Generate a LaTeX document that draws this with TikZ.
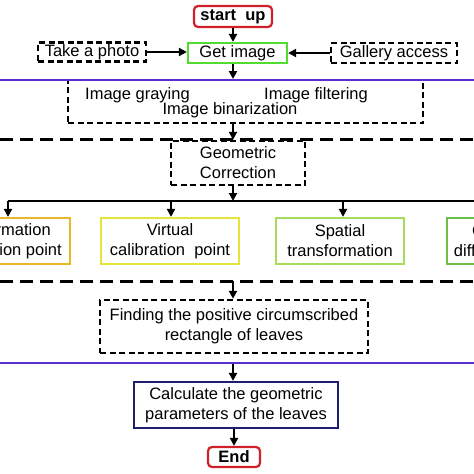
\documentclass[tikz,border=0pt]{standalone}
\usepackage{fontspec}
\setmainfont{Liberation Sans}
\usetikzlibrary{arrows.meta}
\definecolor{startred}{RGB}{208,32,42}
\definecolor{getgreen}{RGB}{80,220,50}
\definecolor{purp}{RGB}{88,48,204}
\definecolor{navy}{RGB}{30,30,110}
\definecolor{orangey}{RGB}{232,184,40}
\definecolor{yellowc}{RGB}{228,228,58}
\definecolor{lgreen}{RGB}{165,220,90}
\definecolor{dgreen}{RGB}{108,192,74}
\begin{document}
\begin{tikzpicture}[x=1pt,y=-1pt,
  txt/.style={font=\fontsize{16.5}{20}\selectfont, align=center, inner sep=0pt},
  box/.style={txt, draw, line width=2.2pt},
  dbox/.style={box, line width=2.4pt, dash pattern=on 6pt off 3.5pt},
  rbox/.style={box, draw=startred, rounded corners=4pt, font=\fontsize{16.5}{20}\selectfont\bfseries},
  arr/.style={-{Triangle[length=8pt,width=8pt]}, line width=2pt},
  bigdash/.style={line width=3pt, dash pattern=on 13pt off 7pt},
  pline/.style={draw=purp, line width=2.2pt}]
\clip (0,0) rectangle (474,474);
\fill[white] (0,0) rectangle (474,474);

% top part
\node[rbox, minimum width=78pt, minimum height=21pt] (start) at (233,16.5) {start~ up};
\node[box, draw=getgreen, minimum width=99pt, minimum height=20pt] (get) at (237.5,53) {Get image};
\node[dbox, minimum width=108pt, minimum height=19pt] (photo) at (92,52) {Take a photo};
\node[dbox, minimum width=126pt, minimum height=20pt] (gallery) at (394,53) {Gallery access};

\draw[arr] (start.south) -- (start.south |- get.north);
\draw[arr] (photo.east) -- (get.west |- photo.east);
\draw[arr] (gallery.west) -- (get.east |- gallery.west);

% preprocessing box
\node[dbox, minimum width=355pt, minimum height=43pt] (prep) at (245.5,101.5) {};
\node[txt] (t1) at (137.5,95) {Image graying};
\node[txt] (t2) at (316,95.5) {Image filtering};
\node[txt] (t3) at (230,110) {Image binarization};

\coordinate (p1l) at (0,80);
\coordinate (p1r) at (474,80);
\draw[pline] (p1l) -- (p1r);
\draw[arr] (get.south -| start.south) -- (233,79);

% geometric correction
\coordinate (d1l) at (0,139);
\coordinate (d1r) at (474,139);
\draw[bigdash] (d1l) -- (d1r);
\node[dbox, minimum width=134pt, minimum height=44pt] (geo) at (238,163) {Geometric\\Correction};
\draw[arr] (prep.south -| start.south) -- (geo.north -| start.south);

% branch line
\coordinate (bm) at (233,201);
\coordinate (bl) at (8,201);
\coordinate (br) at (474,201);
\coordinate (a2) at (171,201);
\coordinate (a3) at (343,201);
\draw[line width=2.2pt] (bl) -- (br);
\draw[arr] (geo.south -| bm) -- (bm);

\node[box, draw=orangey, minimum width=132pt, minimum height=46pt] (b1) at (4,241) {Confirmation\\calibration point};
\node[box, draw=yellowc, minimum width=138pt, minimum height=46pt] (b2) at (170,241) {Virtual\\calibration~ point};
\node[box, draw=lgreen, minimum width=128pt, minimum height=46pt] (b3) at (340,241) {Spatial\\transformation};
\node[box, draw=dgreen, minimum width=86pt, minimum height=46pt] (b4) at (490,241) {Gray\\difference};

\draw[arr] (bl) -- (bl |- b1.north);
\draw[arr] (a2) -- (a2 |- b2.north);
\draw[arr] (a3) -- (a3 |- b3.north);

% finding
\coordinate (d2l) at (0,281);
\coordinate (d2r) at (474,281);
\coordinate (d2m) at (233,281);
\draw[bigdash] (d2l) -- (d2r);
\node[dbox, minimum width=268pt, minimum height=53pt] (find) at (234,326.5) {Finding the positive circumscribed\\rectangle of leaves};
\draw[arr] (d2m) -- (d2m |- find.north);

% calculate
\coordinate (p2l) at (0,363);
\coordinate (p2r) at (474,363);
\coordinate (p2m) at (233,364);
\draw[pline] (p2l) -- (p2r);
\node[box, draw=navy, minimum width=204pt, minimum height=46pt] (calc) at (236,405) {Calculate the geometric\\parameters of the leaves};
\draw[arr] (p2m) -- (p2m |- calc.north);

\node[rbox, minimum width=52pt, minimum height=20pt] (end) at (234,457) {End};
\draw[arr] (calc.south -| end.north) -- (end.north);
\end{tikzpicture}
\end{document}
